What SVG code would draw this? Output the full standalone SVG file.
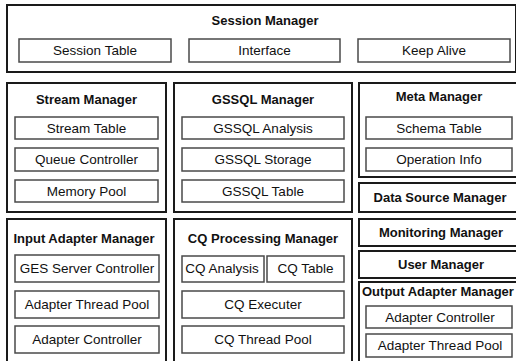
<svg xmlns="http://www.w3.org/2000/svg" width="516" height="361" viewBox="0 0 516 361">
<style>
.outer{fill:#fff;stroke:#1a1a1a;stroke-width:2}
.inner{fill:#fff;stroke:#4a4a4a;stroke-width:1.5}
.title{font-family:"Liberation Sans",Arial,sans-serif;font-size:13px;font-weight:bold;fill:#111;text-anchor:middle}
.item{font-family:"Liberation Sans",Arial,sans-serif;font-size:13.5px;fill:#111;text-anchor:middle}
</style>
<rect x="0" y="0" width="516" height="361" fill="#fff"/>
<g id="session-manager">
<rect class="outer" x="7" y="5" width="509" height="67"/>
<text class="title" x="265" y="25">Session Manager</text>
<rect class="inner" x="19" y="39" width="152" height="23"/>
<text class="item" x="95" y="55">Session Table</text>
<rect class="inner" x="189" y="39" width="151" height="23"/>
<text class="item" x="264.5" y="55">Interface</text>
<rect class="inner" x="358" y="39" width="152" height="23"/>
<text class="item" x="434" y="55">Keep Alive</text>
</g>
<g id="stream-manager">
<rect class="outer" x="7" y="83" width="159" height="129"/>
<text class="title" x="86.5" y="104">Stream Manager</text>
<rect class="inner" x="15" y="117" width="143" height="22"/>
<text class="item" x="86.5" y="132.5">Stream Table</text>
<rect class="inner" x="15" y="148" width="143" height="23"/>
<text class="item" x="86.5" y="164">Queue Controller</text>
<rect class="inner" x="15" y="180" width="143" height="22"/>
<text class="item" x="86.5" y="195.5">Memory Pool</text>
</g>
<g id="gssql-manager">
<rect class="outer" x="174" y="83" width="178" height="129"/>
<text class="title" x="263" y="104">GSSQL Manager</text>
<rect class="inner" x="182" y="117" width="162" height="22"/>
<text class="item" x="263" y="132.5">GSSQL Analysis</text>
<rect class="inner" x="182" y="148" width="162" height="23"/>
<text class="item" x="263" y="164">GSSQL Storage</text>
<rect class="inner" x="182" y="180" width="162" height="22"/>
<text class="item" x="263" y="195.5">GSSQL Table</text>
</g>
<g id="meta-manager">
<rect class="outer" x="359" y="83" width="160" height="94"/>
<text class="title" x="439" y="101">Meta Manager</text>
<rect class="inner" x="366" y="117" width="146" height="22"/>
<text class="item" x="439" y="132.5">Schema Table</text>
<rect class="inner" x="366" y="148" width="146" height="23"/>
<text class="item" x="439" y="164">Operation Info</text>
</g>
<g id="data-source-manager">
<rect class="outer" x="359" y="183" width="160" height="29"/>
<text class="title" x="440" y="202">Data Source Manager</text>
</g>
<g id="input-adapter-manager">
<rect class="outer" x="7" y="219" width="159" height="155"/>
<text class="title" x="84" y="243">Input Adapter Manager</text>
<rect class="inner" x="15" y="255" width="144" height="27"/>
<text class="item" x="87" y="273">GES Server Controller</text>
<rect class="inner" x="15" y="291" width="144" height="27"/>
<text class="item" x="87" y="309">Adapter Thread Pool</text>
<rect class="inner" x="15" y="326" width="144" height="27"/>
<text class="item" x="87" y="344">Adapter Controller</text>
</g>
<g id="cq-processing-manager">
<rect class="outer" x="174" y="219" width="178" height="155"/>
<text class="title" x="263" y="243">CQ Processing Manager</text>
<rect class="inner" x="182" y="256" width="82" height="26"/>
<text class="item" x="222" y="273">CQ Analysis</text>
<rect class="inner" x="267" y="256" width="77" height="26"/>
<text class="item" x="305.5" y="273">CQ Table</text>
<rect class="inner" x="182" y="291" width="162" height="27"/>
<text class="item" x="263" y="309">CQ Executer</text>
<rect class="inner" x="182" y="326" width="162" height="27"/>
<text class="item" x="263" y="344">CQ Thread Pool</text>
</g>
<g id="monitoring-manager">
<rect class="outer" x="359" y="219" width="160" height="27"/>
<text class="title" x="441" y="237">Monitoring Manager</text>
</g>
<g id="user-manager">
<rect class="outer" x="359" y="251" width="160" height="27"/>
<text class="title" x="441" y="269">User Manager</text>
</g>
<g id="output-adapter-manager">
<rect class="outer" x="359" y="282" width="160" height="92"/>
<text class="title" x="362" y="296" style="text-anchor:start">Output Adapter Manager</text>
<rect class="inner" x="366" y="306" width="146" height="22"/>
<text class="item" x="440" y="322">Adapter Controller</text>
<rect class="inner" x="366" y="334" width="146" height="23"/>
<text class="item" x="440" y="350">Adapter Thread Pool</text>
</g>
<g id="connectors"></g>
</svg>
